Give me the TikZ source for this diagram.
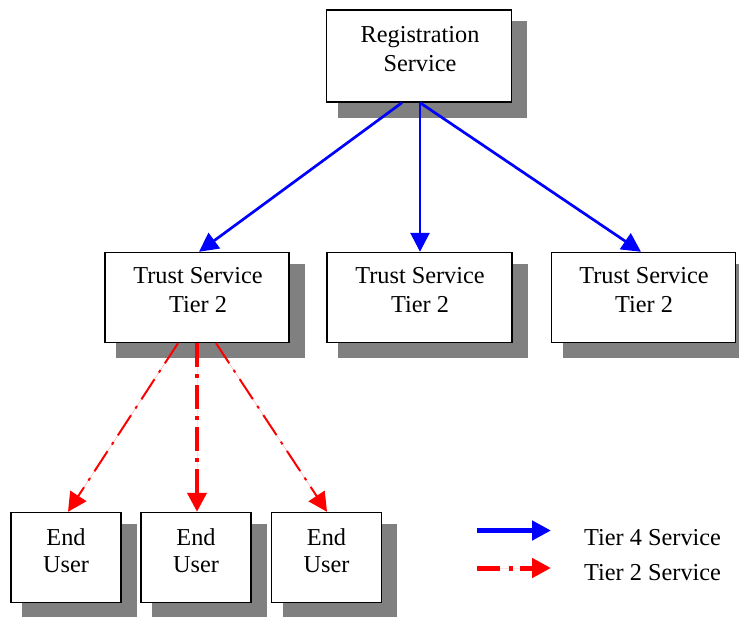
\documentclass[tikz,border=0pt]{standalone}
\usepackage{fontspec}
\setmainfont{Liberation Serif}
\usetikzlibrary{arrows.meta,calc}
\pgfdeclarelayer{bg}
\pgfsetlayers{bg,main}
\definecolor{shadowgray}{RGB}{128,128,128}
\begin{document}
\begin{tikzpicture}[x=1pt,y=-1pt,
  box/.style={draw=black, line width=1.4pt, fill=white, inner sep=0pt},
  lbl/.style={anchor=base, inner sep=0pt, font=\fontsize{24.3}{29}\selectfont},
  legtext/.style={anchor=base west, inner sep=0pt, font=\fontsize{24.3}{29}\selectfont},
  shadowbox/.style={fill=shadowgray, draw=none},
  bluearr/.style={draw=blue, line width=2.7pt, line cap=butt, -{Triangle[length=19pt,width=19pt]}, fill=blue},
  redarr/.style={draw=red, line width=2pt, line cap=butt, dash pattern={on 24pt off 8pt on 3pt off 8pt}, -{Triangle[length=19pt,width=19pt]}, fill=red},
  redthick/.style={redarr, line width=4pt, dash pattern={on 24pt off 7pt on 4pt off 7pt}}
]
\clip (0,0) rectangle (739,616);
\useasboundingbox (0,0) rectangle (739,616);

% boxes
\node[box, minimum width=185pt, minimum height=92pt] (reg) at (419,56) {};
\node[box, minimum width=184pt, minimum height=90pt] (t1) at (197,297.5) {};
\node[box, minimum width=185pt, minimum height=90pt] (t2) at (419.5,297.5) {};
\node[box, minimum width=184pt, minimum height=90pt] (t3) at (643.5,297.5) {};
\node[box, minimum width=110pt, minimum height=90pt] (e1) at (66,557.5) {};
\node[box, minimum width=110pt, minimum height=90pt] (e2) at (196,557.5) {};
\node[box, minimum width=110pt, minimum height=90pt] (e3) at (326.5,557.5) {};

% shadows
\begin{pgfonlayer}{bg}
  \foreach \n in {reg,t1,t2,t3,e1,e2,e3}{
    \fill[shadowbox] ($(\n.north west)+(12,12)$) rectangle ($(\n.south east)+(15,15)$);
  }
\end{pgfonlayer}

% texts
\node[lbl] (regA) at (420,42.3) {Registration};
\node[lbl] (regB) at (420,71.7) {Service};
\node[lbl] (t1A) at (198,283.3) {Trust Service};
\node[lbl] (t1B) at (198,312.7) {Tier 2};
\node[lbl] (t2A) at (420,283.3) {Trust Service};
\node[lbl] (t2B) at (420,312.7) {Tier 2};
\node[lbl] (t3A) at (644,283.3) {Trust Service};
\node[lbl] (t3B) at (644,312.7) {Tier 2};
\node[lbl] (e1A) at (66,545) {End};
\node[lbl] (e1B) at (66,572.7) {User};
\node[lbl] (e2A) at (196,545) {End};
\node[lbl] (e2B) at (196,572.7) {User};
\node[lbl] (e3A) at (326.5,545) {End};
\node[lbl] (e3B) at (326.5,572.7) {User};

% blue connectors
\draw[bluearr] ($(reg.south)+(-17,0)$) -- ($(t1.north)+(2,0)$);
\draw[bluearr] ($(reg.south)+(1,0)$) -- ($(t2.north)+(0.5,0)$);
\draw[bluearr] ($(reg.south)+(1,0)$) -- ($(t3.north)+(-2.5,0)$);

% red connectors
\draw[redarr] ($(t1.south)+(-19,0)$) -- ($(e1.north)+(2,0)$);
\draw[redthick] ($(t1.south)+(0,0)$) -- ($(e2.north)+(1,0)$);
\draw[redarr] ($(t1.south)+(19,0)$) -- ($(e3.north)+(0.5,0)$);

% legend
\coordinate (lb1) at (477,530.5);
\coordinate (lb2) at (551,530.5);
\coordinate (lr1) at (477,568);
\coordinate (lr2) at (551,568);
\draw[bluearr, line width=5pt] (lb1) -- (lb2);
\draw[redarr, line width=5pt, dash pattern={on 23pt off 9pt on 4pt off 7pt}] (lr1) -- (lr2);
\node[legtext] (leg1) at (584,545) {Tier 4 Service};
\node[legtext] (leg2) at (584,580) {Tier 2 Service};
\end{tikzpicture}
\end{document}
